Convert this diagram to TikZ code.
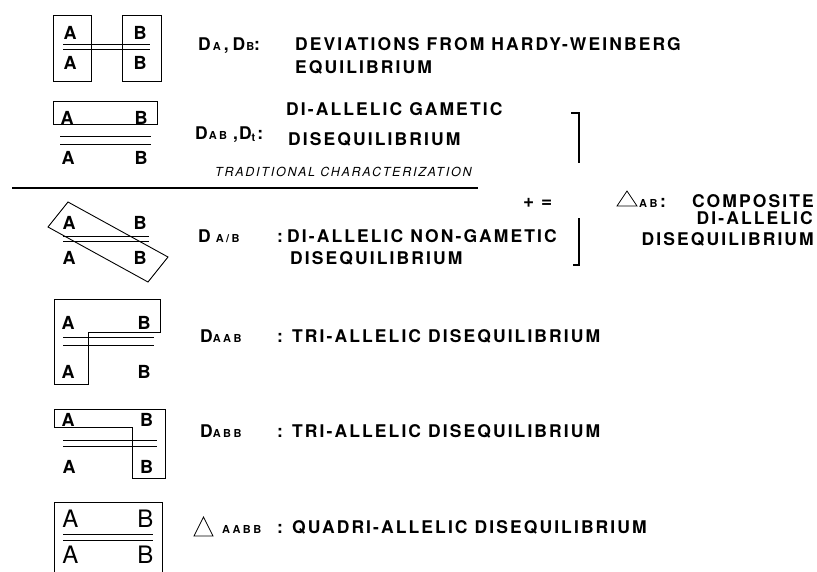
\documentclass[tikz,border=0pt]{standalone}
\usepackage{fontspec}
\setmainfont{TeX Gyre Heros}
\newfontfamily\hv[LetterSpace=12]{TeX Gyre Heros Bold}
\newfontfamily\hvsub[LetterSpace=22]{TeX Gyre Heros Bold}
\newfontfamily\hvit[LetterSpace=14]{TeX Gyre Heros Italic}
\newfontfamily\hvallele{TeX Gyre Heros Bold}
\newfontfamily\hvbig{TeX Gyre Heros}
\newcommand\lsub[1]{{\hvsub\fontsize{11}{11}\selectfont #1}}
\tikzset{
  txt/.style={anchor=base west, inner sep=0pt, font=\hv\fontsize{17.5}{17.5}\selectfont},
  txtr/.style={txt, anchor=base east},
  sign/.style={txt, font=\hv\fontsize{19}{19}\selectfont},
  note/.style={anchor=base west, inner sep=0pt, font=\hvit\fontsize{12.5}{12.5}\selectfont},
  allele/.style={inner sep=0pt, anchor=center, font=\hvallele\fontsize{18}{18}\selectfont},
  bigallele/.style={allele, font=\hvbig\fontsize{24}{24}\selectfont},
  outline/.style={line width=0.9pt, line join=miter},
  chrom/.style={line width=1pt},
  rule/.style={line width=1.8pt},
  brace/.style={line width=1.4pt},
  delta/.style={line width=0.8pt, line join=miter},
}
\begin{document}
\begin{tikzpicture}[x=1pt,y=-1pt]
\useasboundingbox (0,0) rectangle (817,571);

% ---- row 1: single-locus (Hardy-Weinberg) boxes
\draw[outline] (53,15) rectangle (91,81);
\draw[outline] (122,15) rectangle (161,81);
\draw[chrom] (63,44) -- (150,44);
\draw[chrom] (63,49) -- (150,49);
\node[allele] (a1t) at (70,33) {A};
\node[allele] (b1t) at (140,33) {B};
\node[allele] (a1b) at (70,63) {A};
\node[allele] (b1b) at (140,63) {B};

% ---- row 2: gametic box
\draw[outline] (53,101) rectangle (157,124);
\draw[chrom] (60,136) -- (151,136);
\draw[chrom] (60,144) -- (151,144);
\node[allele] (a2t) at (67,118) {A};
\node[allele] (b2t) at (141,118) {B};
\node[allele] (a2b) at (68,157.5) {A};
\node[allele] (b2b) at (141,157.5) {B};

% separator
\draw[rule] (12,188) -- (478,188);

% ---- row 3: non-gametic (diagonal) box
\draw[outline] (68,202) -- (168,257) -- (148,282) -- (48,227) -- cycle;
\draw[chrom] (63,236.7) -- (149,236.7);
\draw[chrom] (63,241.7) -- (149,241.7);
\node[allele] (a3t) at (69,222.5) {A};
\node[allele] (b3t) at (140,222.5) {B};
\node[allele] (a3b) at (69,258) {A};
\node[allele] (b3b) at (140,258) {B};

% ---- row 4: tri-allelic AAB
\draw[outline] (54,299) -- (160,299) -- (160,332) -- (88,332) -- (88,384) -- (54,384) -- cycle;
\draw[chrom] (63,337.3) -- (154,337.3);
\draw[chrom] (63,345) -- (154,345);
\node[allele] (a4t) at (68,322.5) {A};
\node[allele] (b4t) at (144,322.5) {B};
\node[allele] (a4b) at (68,371.5) {A};
\node[allele] (b4b) at (144,371.5) {B};

% ---- row 5: tri-allelic ABB
\draw[outline] (54,409) -- (165,409) -- (165,478) -- (132,478) -- (132,427) -- (54,427) -- cycle;
\draw[chrom] (63,440) -- (157,440);
\draw[chrom] (63,446.7) -- (157,446.7);
\node[allele] (a5t) at (68,420) {A};
\node[allele] (b5t) at (146.5,420) {B};
\node[allele] (a5b) at (69,466.5) {A};
\node[allele] (b5b) at (146.5,466.5) {B};

% ---- row 6: quadri-allelic box
\draw[outline] (54,575) -- (54,502) -- (162,502) -- (162,575);
\draw[chrom] (63,534) -- (153,534);
\draw[chrom] (63,540.7) -- (153,540.7);
\node[bigallele] (a6t) at (70.5,518.5) {A};
\node[bigallele] (b6t) at (145.5,518.5) {B};
\node[bigallele] (a6b) at (70.5,555) {A};
\node[bigallele] (b6b) at (145.5,555) {B};

% ---- labels
\node[txt] (l1s) at (198,50) {D\hspace{2pt}\lsub{A}\hspace{3pt},\hspace{4pt}D\hspace{1pt}\lsub{B}:};
\node[txt] (l1a) at (295,50) {DEVIATIONS FROM HARDY-WEINBERG};
\node[txt] (l1b) at (295,73) {EQUILIBRIUM};

\node[txt] (l2s) at (195,139) {D\hspace{1pt}\lsub{AB}\hspace{6pt},\hspace{1pt}D\lsub{\raisebox{-2pt}{t}}\hspace{2pt}:};
\node[txt] (l2a) at (286,115) {DI-ALLELIC GAMETIC};
\node[txt] (l2b) at (288,145) {DISEQUILIBRIUM};
\node[note] (l2n) at (215,176) {TRADITIONAL CHARACTERIZATION};

\node[txt] (l3s) at (198,242) {D\hspace{5pt}\lsub{A/B}};
\node[txt] (l3c) at (277,242) {:};
\node[txt] (l3a) at (287,242) {DI-ALLELIC NON-GAMETIC};
\node[txt] (l3b) at (290,264) {DISEQUILIBRIUM};

\node[txt] (l4s) at (200,342) {D\lsub{AAB}};
\node[txt] (l4c) at (277,342) {:};
\node[txt] (l4a) at (292,342) {TRI-ALLELIC DISEQUILIBRIUM};

\node[txt] (l5s) at (200,437) {D\lsub{ABB}};
\node[txt] (l5c) at (277,437) {:};
\node[txt] (l5a) at (292,437) {TRI-ALLELIC DISEQUILIBRIUM};

\draw[delta] (194,536) -- (213,536) -- (203.5,517) -- cycle;
\node[txt] (l6s) at (222,533) {\lsub{AABB}};
\node[txt] (l6c) at (277,533) {:};
\node[txt] (l6a) at (292,533) {QUADRI-ALLELIC DISEQUILIBRIUM};

% ---- brackets and composite term
\draw[brace] (571,113) -- (579,113) -- (579,163);
\draw[brace] (579,218) -- (579,265) -- (573,265);

\node[sign] (plus) at (523,207) {+};
\node[sign] (eq) at (541,207) {=};
\draw[delta] (617,206) -- (637,206) -- (627,191) -- cycle;
\node[txt] (csub) at (639,207) {\lsub{AB}};
\node[txt] (ccol) at (660,207) {:};
\node[txtr] (c1) at (814,207) {COMPOSITE};
\node[txtr] (c2) at (813,224) {DI-ALLELIC};
\node[txtr] (c3) at (814,245) {DISEQUILIBRIUM};
\end{tikzpicture}
\end{document}
